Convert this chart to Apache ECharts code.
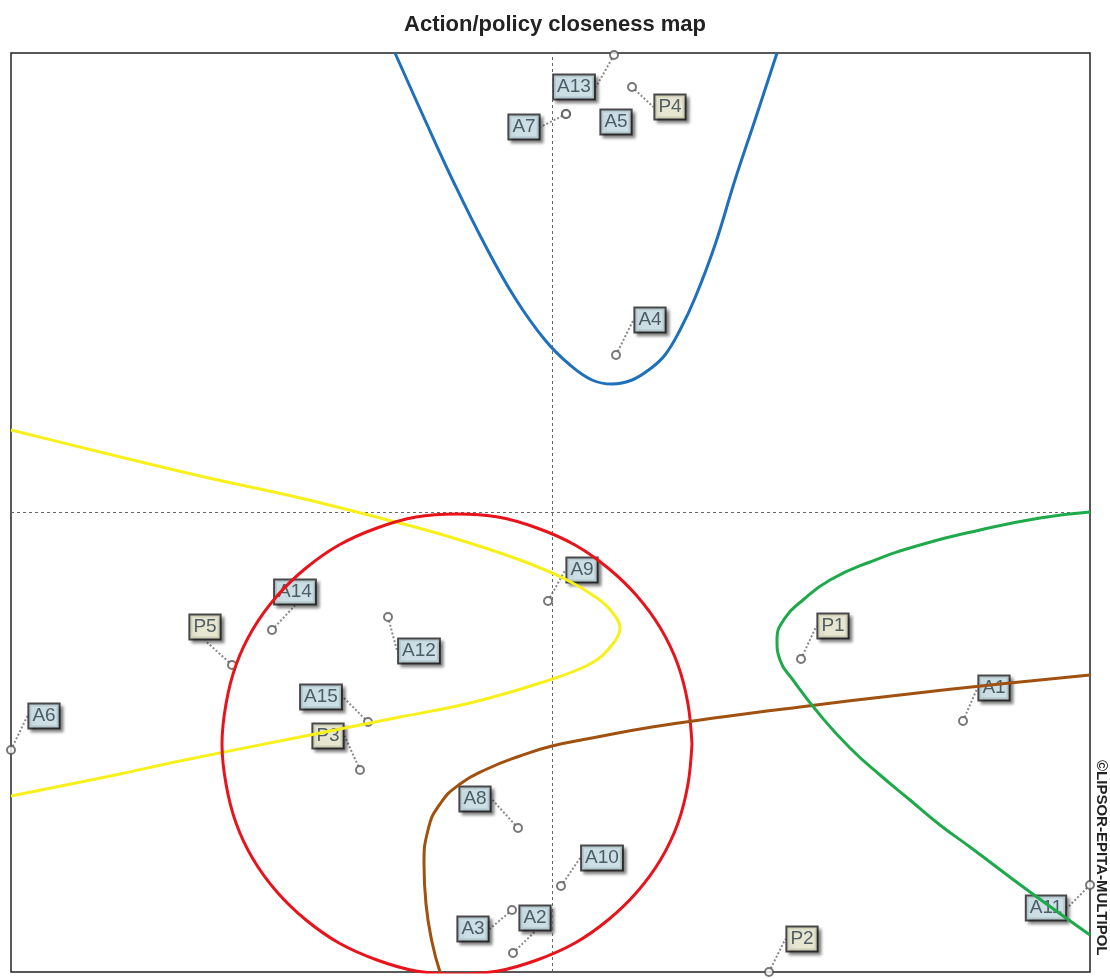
<!DOCTYPE html>
<html>
<head>
<meta charset="utf-8">
<script src="https://cdn.jsdelivr.net/npm/echarts@6/dist/echarts.min.js"></script>
<style>
html,body{margin:0;padding:0;background:#fff;}
#chart{width:1110px;height:979px;}
</style>
</head>
<body>
<div id="chart"></div>
<script>
// ---- data (map units: origin at crosshair) ----
const pointNames = ['A1','A2','A3','A4','A5','A6','A7','A8','A9','A10','A11','A12','A13','A14','A15','P1','P2','P3','P4','P5'];
const pointX = [411,-39,-40,64,14,-541,14,-34,-4,9,538,-164,62,-280,-184,249,217,-192,80,-320];
const pointY = [-209,-441,-398,157,398,-238,398,-316,-89,-374,-373,-105,457,-118,-210,-147,-460,-258,425,-153];

// label placement (screen pixels, relative to point)
const labelDX = [31,22,-39,34,50,33,-42,-43,34,41,-44,31,-40,23,-47,32,33,-32,38,-27];
const labelDY = [-33,-35,19,-35,8,-34,13,-29,-31,-28,23,34,32,-38,-25,-33,-33,-34,20,-38];
const hiddenLeaders = ['A5'];

// curves
const blueX = [-157,-127,-97,-67,-37,-7,18,40,60,80,98,113,128,143,163,183,203,225];
const blueY = [459,392,327,267,214,172,147,132,128,132,143,157,182,214,267,332,392,459];

const yellowX = [-541,-452,-352,-252,-172,-102,-32,15,45,60,68,60,38,-12,-82,-152,-252,-382,-432,-541];
const yellowY = [82,60,36,14,-6,-25,-48,-68,-86,-100,-116,-133,-152,-171,-191,-205,-225,-251,-262,-284];

const redX = [140,136,126,109,85,56,23,-15,-54,-95,-136,-175,-213,-246,-275,-299,-316,-326,-330,-326,-316,-299,-275,-246,-213,-175,-136,-95,-54,-15,23,56,85,109,126,136,140];
const redY = [-232,-192,-153,-117,-84,-56,-33,-16,-5,-2,-5,-16,-33,-56,-84,-117,-153,-192,-232,-272,-311,-347,-380,-408,-431,-448,-459,-462,-459,-448,-431,-408,-380,-347,-311,-272,-232];

const brownX = [-112,-120,-126,-128,-124,-112,-92,-65,-32,0,40,100,170,248,348,448,538];
const brownY = [-460,-430,-392,-352,-318,-292,-272,-257,-244,-234,-226,-215,-205,-195,-183,-172,-163];

const greenX = [538,488,428,368,318,278,251,233,225,228,241,268,298,328,358,388,418,478,538];
const greenY = [0,-6,-18,-33,-50,-68,-88,-106,-128,-148,-168,-203,-236,-263,-288,-313,-335,-380,-423];

const titleText = 'Action/policy closeness map';
const copyrightText = '©LIPSOR-EPITA-MULTIPOL';

function zip(xs, ys){ return xs.map((x,i)=>[x, ys[i]]); }

const chart = echarts.init(document.getElementById('chart'), null, {renderer:'canvas'});

const pointData = pointNames.map((n,i)=>{
  const isP = n[0]==='P';
  return {
    name:n,
    value:[pointX[i], pointY[i]],
    label:{
      backgroundColor: isP ? '#f8f8dc' : '#d6edf5'
    },
    labelLine:{show: hiddenLeaders.indexOf(n) < 0}
  };
});

function curve(name, xs, ys, color, sm){
  return {
    name:name, type:'line', data:zip(xs,ys), smooth:sm, showSymbol:false,
    symbol:'none', z:5, silent:true,
    lineStyle:{color:color, width:3}
  };
}

const option = {
  animation:false,
  backgroundColor:'#ffffff',
  title:{
    text:titleText, left:'center', top:9,
    textStyle:{fontSize:22, fontWeight:'bold', color:'#222', fontFamily:'Liberation Sans, Arial, sans-serif'}
  },
  grid:{left:11, right:20, top:53, bottom:7, show:true, borderColor:'#222', borderWidth:1.5, backgroundColor:'#fff'},
  xAxis:{type:'value', min:-541, max:538, show:true, axisLine:{show:false}, axisTick:{show:false}, axisLabel:{show:false}, splitLine:{show:false}},
  yAxis:{type:'value', min:-460, max:459, show:true, axisLine:{show:false}, axisTick:{show:false}, axisLabel:{show:false}, splitLine:{show:false}},
  series:[
    {
      name:'axes', type:'line', data:[], z:1,
      markLine:{
        silent:true, symbol:['none','none'], label:{show:false},
        lineStyle:{color:'#666', type:[3,3], width:1},
        data:[{xAxis:0},{yAxis:0}]
      }
    },
    {
      name:'points', type:'scatter', data:pointData, z:3, clip:false,
      symbol:'circle', symbolSize:8,
      itemStyle:{color:'#fff', borderColor:'#555', borderWidth:2},
      label:{
        show:true, position:'inside', formatter:'{b}',
        fontSize:19, color:'#2b3b45', fontFamily:'Liberation Sans, Arial, sans-serif',
        borderColor:'#1c1c1c', borderWidth:2, padding:[3,3,1,3],
        shadowColor:'rgba(0,0,0,0.45)', shadowOffsetX:3, shadowOffsetY:3, shadowBlur:3
      },
      labelLine:{show:true, lineStyle:{color:'#8a8a8a', width:2, type:[2,2]}},
      labelLayout:function(p){ return {dx:labelDX[p.dataIndex], dy:labelDY[p.dataIndex]}; }
    },
    curve('blue', blueX, blueY, '#1f6fbf', 0.4),
    curve('yellow', yellowX, yellowY, '#f7f01a', 0.4),
    curve('red', redX, redY, '#e8131b', 0.35),
    curve('brown', brownX, brownY, '#a0500f', 0.5),
    curve('green', greenX, greenY, '#1eaa4a', 0.5)
  ],
  graphic:[{
    type:'text', left:1094, top:760, rotation:-Math.PI/2,
    style:{text:copyrightText, fontSize:15, fontWeight:'bold', fill:'#222', fontFamily:'Liberation Sans Narrow, Liberation Sans, Arial, sans-serif'}
  }]
};
chart.setOption(option);
</script>
</body>
</html>
